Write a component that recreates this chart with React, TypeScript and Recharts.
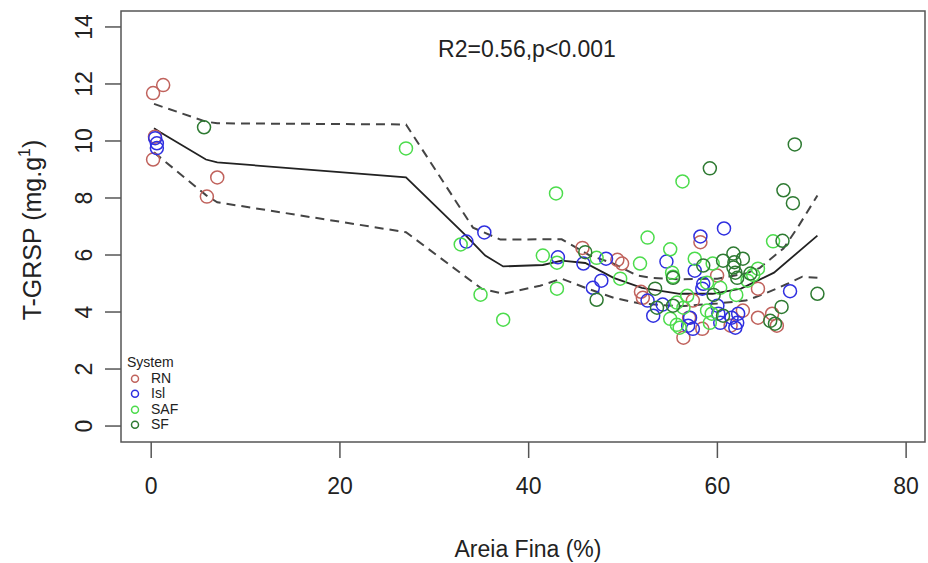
import React from 'react';
import { ComposedChart, Scatter, Line, XAxis, YAxis, ReferenceArea, Label } from 'recharts';

const xTicks = [0, 20, 40, 60, 80];
const yTicks = [0, 2, 4, 6, 8, 10, 12, 14];

const rnPoints = [
  { x: 0.2, y: 11.68 }, { x: 1.27, y: 11.96 }, { x: 0.4, y: 10.15 }, { x: 0.2, y: 9.35 },
  { x: 7.0, y: 8.72 }, { x: 5.9, y: 8.05 }, { x: 45.7, y: 6.25 }, { x: 49.4, y: 5.83 },
  { x: 49.9, y: 5.7 }, { x: 51.9, y: 4.71 }, { x: 52.1, y: 4.5 }, { x: 59.97, y: 5.28 },
  { x: 64.3, y: 4.82 }, { x: 57.4, y: 4.4 }, { x: 61.4, y: 3.52 }, { x: 62.7, y: 4.05 },
  { x: 64.3, y: 3.8 }, { x: 65.8, y: 3.94 }, { x: 66.3, y: 3.52 }, { x: 56.4, y: 3.1 },
  { x: 58.4, y: 3.41 }, { x: 58.2, y: 6.45 }, { x: 57.0, y: 3.8 },
];

const islPoints = [
  { x: 0.42, y: 10.1 }, { x: 0.6, y: 9.92 }, { x: 0.6, y: 9.75 }, { x: 35.3, y: 6.79 },
  { x: 33.4, y: 6.47 }, { x: 43.1, y: 5.92 }, { x: 45.8, y: 5.7 }, { x: 48.2, y: 5.87 },
  { x: 54.6, y: 5.77 }, { x: 47.7, y: 5.1 }, { x: 46.8, y: 4.85 }, { x: 52.6, y: 4.4 },
  { x: 54.2, y: 4.26 }, { x: 53.2, y: 3.87 }, { x: 60.7, y: 6.93 }, { x: 58.2, y: 6.65 },
  { x: 57.6, y: 5.45 }, { x: 58.5, y: 4.99 }, { x: 58.4, y: 4.82 }, { x: 67.7, y: 4.73 },
  { x: 60.0, y: 4.22 }, { x: 60.1, y: 3.94 }, { x: 60.3, y: 3.62 }, { x: 61.5, y: 3.8 },
  { x: 62.1, y: 3.62 }, { x: 62.2, y: 3.94 }, { x: 57.1, y: 3.8 }, { x: 56.9, y: 3.52 },
  { x: 57.4, y: 3.41 }, { x: 61.9, y: 3.45 },
];

const safPoints = [
  { x: 27.0, y: 9.74 }, { x: 42.9, y: 8.16 }, { x: 32.8, y: 6.37 }, { x: 41.5, y: 5.98 },
  { x: 43.0, y: 5.73 }, { x: 34.9, y: 4.61 }, { x: 37.3, y: 3.73 }, { x: 43.0, y: 4.82 },
  { x: 52.6, y: 6.61 }, { x: 55.0, y: 6.2 }, { x: 47.2, y: 5.9 }, { x: 51.8, y: 5.7 },
  { x: 49.7, y: 5.17 }, { x: 55.2, y: 5.38 }, { x: 55.3, y: 5.24 }, { x: 55.0, y: 3.76 },
  { x: 55.7, y: 3.55 }, { x: 56.3, y: 8.58 }, { x: 65.9, y: 6.48 }, { x: 57.6, y: 5.87 },
  { x: 59.5, y: 5.7 }, { x: 64.3, y: 5.52 }, { x: 58.9, y: 5.03 }, { x: 63.2, y: 5.1 },
  { x: 60.3, y: 4.85 }, { x: 56.8, y: 4.57 }, { x: 55.7, y: 4.33 }, { x: 56.4, y: 4.15 },
  { x: 58.9, y: 4.05 }, { x: 59.4, y: 3.94 }, { x: 56.0, y: 3.45 }, { x: 59.2, y: 3.62 },
  { x: 62.0, y: 4.6 }, { x: 63.8, y: 5.3 },
];

const sfPoints = [
  { x: 5.6, y: 10.48 }, { x: 46.0, y: 6.1 }, { x: 47.2, y: 4.43 }, { x: 53.4, y: 4.82 },
  { x: 53.6, y: 4.15 }, { x: 55.3, y: 4.22 }, { x: 59.2, y: 9.04 }, { x: 68.2, y: 9.88 },
  { x: 67.0, y: 8.27 }, { x: 68.0, y: 7.82 }, { x: 66.9, y: 6.5 }, { x: 61.7, y: 6.05 },
  { x: 62.7, y: 5.87 }, { x: 60.6, y: 5.8 }, { x: 58.5, y: 5.63 }, { x: 61.7, y: 5.56 },
  { x: 61.9, y: 5.38 }, { x: 62.1, y: 5.2 }, { x: 63.5, y: 5.35 }, { x: 55.3, y: 5.2 },
  { x: 66.8, y: 4.18 }, { x: 60.6, y: 3.87 }, { x: 65.6, y: 3.69 }, { x: 66.1, y: 3.59 },
  { x: 70.6, y: 4.64 }, { x: 61.8, y: 5.75 }, { x: 59.6, y: 4.6 },
];

// loess fit and its confidence band
const fitLine = [
  { x: 0.3, y: 10.45 }, { x: 1.0, y: 10.3 }, { x: 5.8, y: 9.35 }, { x: 7.0, y: 9.25 },
  { x: 27.0, y: 8.72 }, { x: 33.3, y: 6.7 }, { x: 35.4, y: 5.98 }, { x: 37.3, y: 5.6 },
  { x: 41.5, y: 5.65 }, { x: 43.5, y: 5.8 }, { x: 46.0, y: 5.72 }, { x: 49.0, y: 5.2 },
  { x: 52.0, y: 4.85 }, { x: 56.0, y: 4.64 }, { x: 59.5, y: 4.64 }, { x: 62.5, y: 4.82 },
  { x: 66.0, y: 5.38 }, { x: 70.6, y: 6.68 },
];

const upperBand = [
  { x: 0.3, y: 11.3 }, { x: 5.8, y: 10.68 }, { x: 7.0, y: 10.62 }, { x: 27.0, y: 10.58 },
  { x: 34.1, y: 6.96 }, { x: 37.0, y: 6.54 }, { x: 41.5, y: 6.55 }, { x: 43.5, y: 6.55 },
  { x: 46.5, y: 5.98 }, { x: 49.0, y: 5.7 }, { x: 51.5, y: 5.28 }, { x: 53.0, y: 5.2 },
  { x: 56.0, y: 5.15 }, { x: 60.0, y: 5.17 }, { x: 63.0, y: 5.35 }, { x: 64.5, y: 5.55 },
  { x: 67.0, y: 6.23 }, { x: 68.5, y: 6.96 }, { x: 70.6, y: 8.09 },
];

const lowerBand = [
  { x: 0.3, y: 9.6 }, { x: 5.8, y: 8.1 }, { x: 7.0, y: 7.85 }, { x: 27.0, y: 6.8 },
  { x: 35.0, y: 4.82 }, { x: 37.3, y: 4.64 }, { x: 41.2, y: 4.92 }, { x: 43.5, y: 5.17 },
  { x: 46.0, y: 4.85 }, { x: 49.0, y: 4.5 }, { x: 51.8, y: 4.3 }, { x: 56.0, y: 4.2 },
  { x: 60.0, y: 4.3 }, { x: 63.0, y: 4.4 }, { x: 65.0, y: 4.64 }, { x: 67.5, y: 5.0 },
  { x: 69.0, y: 5.24 }, { x: 70.6, y: 5.2 },
];

const systems = [
  { name: 'RN', color: '#c0625c', points: rnPoints },
  { name: 'Isl', color: '#2f2fe0', points: islPoints },
  { name: 'SAF', color: '#4cdc4c', points: safPoints },
  { name: 'SF', color: '#2e7a32', points: sfPoints },
];

const font = '"Liberation Sans", Arial, Helvetica, sans-serif';
const xDomain = [-3.2, 82];
const yDomain = [-0.56, 14.56];

const ring = (color: string) => (props: any) => (
  <circle cx={props.cx} cy={props.cy} r={6.5} fill="none" stroke={color} strokeWidth={1.5} />
);

const YTick = (props: any) => {
  const { y, payload } = props;
  return (
    <text x={92} y={y} transform={`rotate(-90, 92, ${y})`} textAnchor="middle" fontSize={23} fill="#222" fontFamily={font}>
      {payload.value}
    </text>
  );
};

export default function App() {
  return (
    <div style={{ position: 'absolute', left: 0, top: 0, width: 928, height: 563, background: '#fff' }}>
      <ComposedChart width={928} height={563} margin={{ top: 11, right: 3, bottom: 61, left: 61 }}>
        <XAxis
          type="number"
          dataKey="x"
          domain={xDomain}
          ticks={xTicks}
          allowDataOverflow
          height={60}
          axisLine={false}
          tickSize={16}
          tickMargin={20}
          tickLine={{ stroke: '#555', strokeWidth: 1.5 }}
          tick={{ fontSize: 23, fill: '#222', fontFamily: font }}
        >
          <Label
            content={() => (
              <text x={528} y={557} textAnchor="middle" fontSize={23} fill="#222" fontFamily={font}>
                Areia Fina (%)
              </text>
            )}
          />
        </XAxis>
        <YAxis
          type="number"
          dataKey="y"
          domain={yDomain}
          ticks={yTicks}
          allowDataOverflow
          width={60}
          axisLine={false}
          tickSize={16}
          tickLine={{ stroke: '#555', strokeWidth: 1.5 }}
          tick={<YTick />}
        >
          <Label
            content={() => (
              <text x={41} y={230} transform="rotate(-90, 41, 230)" textAnchor="middle" fontSize={25} fill="#222" fontFamily={font}>
                T-GRSP (mg.g
                <tspan dy={-11} fontSize={16}>1</tspan>
                <tspan dy={11}>)</tspan>
              </text>
            )}
          />
        </YAxis>
        <ReferenceArea
          x1={xDomain[0]}
          x2={xDomain[1]}
          y1={yDomain[0]}
          y2={yDomain[1]}
          fill="none"
          stroke="#555"
          strokeWidth={1.5}
          ifOverflow="visible"
        >
          <Label
            content={() => (
              <text x={527} y={57} textAnchor="middle" fontSize={23} fill="#222" fontFamily={font}>
                R2=0.56,p&lt;0.001
              </text>
            )}
          />
        </ReferenceArea>
        {systems.map((s) => (
          <Scatter key={s.name} name={s.name} data={s.points} shape={ring(s.color)} isAnimationActive={false} />
        ))}
        <Line data={fitLine} dataKey="y" type="linear" stroke="#222" strokeWidth={1.8} dot={false} isAnimationActive={false} />
        <Line data={upperBand} dataKey="y" type="linear" stroke="#444" strokeWidth={2} strokeDasharray="9 6" dot={false} isAnimationActive={false} />
        <Line data={lowerBand} dataKey="y" type="linear" stroke="#444" strokeWidth={2} strokeDasharray="9 6" dot={false} isAnimationActive={false} />
      </ComposedChart>
      <div style={{ position: 'absolute', left: 127, top: 355, fontFamily: font, fontSize: 14, lineHeight: '15.5px', color: '#222' }}>
        <div>System</div>
        {systems.map((s) => (
          <div key={s.name} style={{ display: 'flex', alignItems: 'center', height: 15.5 }}>
            <svg width={24} height={15.5}>
              <circle cx={8} cy={7.75} r={3.5} fill="none" stroke={s.color} strokeWidth={1.5} />
            </svg>
            <span>{s.name}</span>
          </div>
        ))}
      </div>
    </div>
  );
}
